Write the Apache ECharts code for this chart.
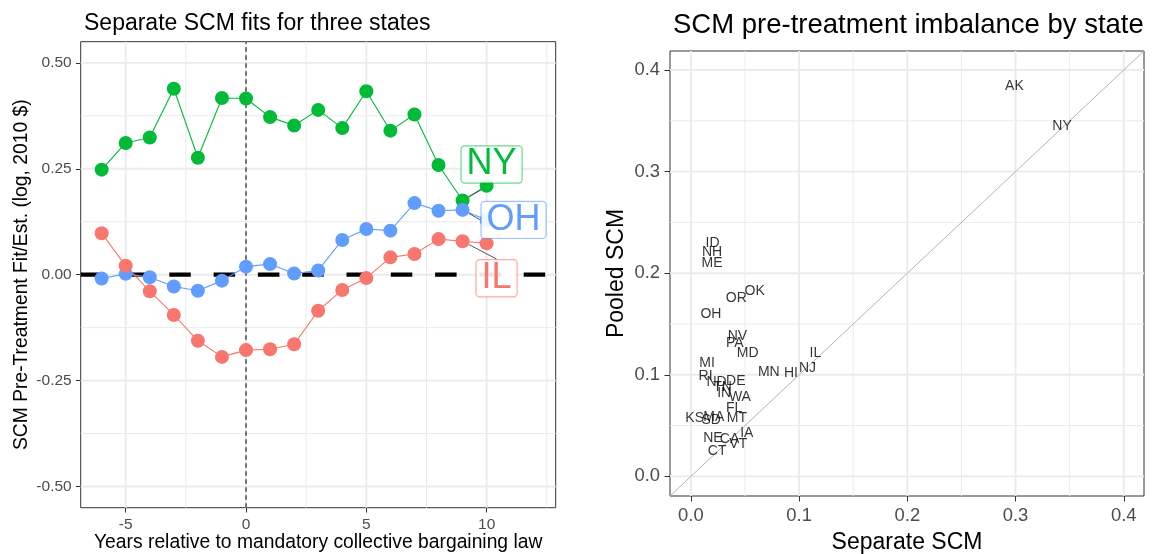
<!DOCTYPE html>
<html>
<head>
<meta charset="utf-8">
<script src="https://cdn.jsdelivr.net/npm/echarts@6/dist/echarts.min.js"></script>
<style>
  html, body { margin: 0; padding: 0; background: #fff; }
  #main { width: 1153px; height: 554px; }
</style>
</head>
<body>
<div id="main"></div>
<script>
var FONT = "Liberation Sans, Arial, Helvetica, sans-serif";

// left panel: separate SCM fits for three states
var years = [-6, -5, -4, -3, -2, -1, 0, 1, 2, 3, 4, 5, 6, 7, 8, 9, 10];
var nyFit = [0.248, 0.311, 0.324, 0.439, 0.276, 0.417, 0.416, 0.372, 0.352, 0.389, 0.346, 0.433, 0.340, 0.378, 0.259, 0.175, 0.210];
var ohFit = [-0.009, 0.002, -0.006, -0.028, -0.038, -0.014, 0.019, 0.025, 0.003, 0.010, 0.082, 0.108, 0.104, 0.169, 0.151, 0.153, 0.129];
var ilFit = [0.098, 0.021, -0.039, -0.095, -0.156, -0.194, -0.178, -0.176, -0.164, -0.085, -0.036, -0.008, 0.041, 0.049, 0.084, 0.079, 0.074];
var fitTicksX = [-5, 0, 5, 10];
var fitMinorX = [-2.5, 2.5, 7.5, 12.5];
var fitTicksY = [-0.5, -0.25, 0, 0.25, 0.5];
var fitMinorY = [-0.375, -0.125, 0.125, 0.375];
var fitRangeX = [-6.87, 12.87];
var fitRangeY = [-0.55, 0.55];
var treatYear = 0;
var zeroLevel = 0;

// right panel: pre-treatment imbalance by state
var states = ["AK", "NY", "ID", "NH", "ME", "OK", "OR", "OH", "NV", "PA", "MD", "IL", "MI", "MN", "HI", "NJ",
  "RI", "ND", "DE", "TN", "IN", "WA", "FL", "KS", "MA", "SD", "MT", "IA", "NE", "CA", "VT", "CT"];
var separateScm = [0.299, 0.343, 0.020, 0.0195, 0.0195, 0.059, 0.042, 0.0185, 0.043, 0.0405, 0.0525, 0.115, 0.015, 0.072, 0.0925, 0.1077,
  0.0136, 0.0237, 0.0415, 0.0292, 0.0308, 0.0453, 0.040, 0.0035, 0.0211, 0.0188, 0.0425, 0.0517, 0.0204, 0.0357, 0.0438, 0.0243];
var pooledScm = [0.3845, 0.3445, 0.2296, 0.2204, 0.2099, 0.1819, 0.1753, 0.1595, 0.1385, 0.1309, 0.1217, 0.1211, 0.1112, 0.103, 0.102, 0.1069,
  0.0987, 0.0931, 0.0941, 0.0875, 0.0816, 0.078, 0.0674, 0.0571, 0.0586, 0.0553, 0.0578, 0.0425, 0.0372, 0.0362, 0.0322, 0.025];
var imbTicks = [0, 0.1, 0.2, 0.3, 0.4];
var imbMinor = [0.05, 0.15, 0.25, 0.35];
var imbRange = [-0.0193, 0.4187];

var stateColors = { NY: "#00BA38", OH: "#619CFF", IL: "#F8766D" };
var stateBorders = { NY: "rgba(0,186,56,0.55)", OH: "rgba(97,156,255,0.6)", IL: "rgba(248,118,109,0.6)" };
// label placement (pixel offsets from the year-9 point), like ggrepel
var labelIdx = 15;
var labelShift = { NY: [29, -36], OH: [51, 10], IL: [34, 37] };

var myChart = echarts.init(document.getElementById("main"));

function segment(gi, data, style, z) {
  return {
    type: "line",
    xAxisIndex: gi,
    yAxisIndex: gi,
    data: data,
    symbol: "none",
    silent: true,
    z: z,
    lineStyle: style,
    emphasis: { disabled: true }
  };
}

// panel grid lines, drawn as plain series so they sit under the data
function gridSeries(gi, rx, ry, xMajor, xMinor, yMajor, yMinor) {
  var minor = { color: "#ebebeb", width: 1 };
  var major = { color: "#ebebeb", width: 1.9 };
  var out = [];
  xMinor.forEach(function (v) { out.push(segment(gi, [[v, ry[0]], [v, ry[1]]], minor, 0)); });
  yMinor.forEach(function (v) { out.push(segment(gi, [[rx[0], v], [rx[1], v]], minor, 0)); });
  xMajor.forEach(function (v) { out.push(segment(gi, [[v, ry[0]], [v, ry[1]]], major, 0)); });
  yMajor.forEach(function (v) { out.push(segment(gi, [[rx[0], v], [rx[1], v]], major, 0)); });
  return out;
}

function fitSeries(name, values) {
  var pts = years.map(function (y, i) {
    var item = { value: [y, values[i]] };
    if (i === labelIdx) {
      item.label = {
        show: true,
        position: "inside",
        formatter: name,
        color: stateColors[name],
        textBorderWidth: 0,
        textBorderColor: "transparent",
        fontFamily: FONT,
        fontSize: 36,
        lineHeight: 30,
        padding: [3, 5, 3, 5],
        backgroundColor: "rgba(255,255,255,0.9)",
        borderColor: stateBorders[name],
        borderWidth: 1.2,
        borderRadius: 3
      };
    }
    return item;
  });
  return {
    name: name,
    type: "line",
    xAxisIndex: 0,
    yAxisIndex: 0,
    data: pts,
    z: 3,
    symbol: "circle",
    symbolSize: 14,
    showAllSymbol: true,
    itemStyle: { color: stateColors[name] },
    lineStyle: { color: stateColors[name], width: 1.1 },
    label: { show: false },
    labelLine: { show: true, lineStyle: { color: "#555", width: 1 } },
    labelLayout: function (p) {
      if (p.dataIndex !== labelIdx) return {};
      return { dx: labelShift[name][0], dy: labelShift[name][1] };
    },
    emphasis: { disabled: true }
  };
}

var tickLabel = function (size) {
  return { color: "#4d4d4d", fontFamily: FONT, fontSize: size };
};

var series = []
  .concat(gridSeries(0, fitRangeX, fitRangeY, fitTicksX, fitMinorX, fitTicksY, fitMinorY))
  .concat(gridSeries(1, imbRange, imbRange, imbTicks, imbMinor, imbTicks, imbMinor))
  .concat([
    // zero line (black dashed) and treatment year (thin vertical dashed)
    segment(0, [[fitRangeX[0], zeroLevel], [fitRangeX[1], zeroLevel]], { color: "#000", width: 4.2, type: [21.5, 22.8] }, 1),
    segment(0, [[treatYear, fitRangeY[0]], [treatYear, fitRangeY[1]]], { color: "#333", width: 1.3, type: [4.5, 3.5] }, 1),
    fitSeries("NY", nyFit),
    fitSeries("OH", ohFit),
    fitSeries("IL", ilFit),
    // 45-degree line
    segment(1, [[imbRange[0], imbRange[0]], [imbRange[1], imbRange[1]]], { color: "#b3b3b3", width: 1 }, 1),
    {
      type: "scatter",
      xAxisIndex: 1,
      yAxisIndex: 1,
      z: 3,
      silent: true,
      symbolSize: 0,
      data: states.map(function (s, i) { return { name: s, value: [separateScm[i], pooledScm[i]] }; }),
      labelLayout: { hideOverlap: false },
      label: {
        show: true,
        position: "inside",
        formatter: "{b}",
        color: "#000",
        textBorderWidth: 0,
        textBorderColor: "transparent",
        fontFamily: FONT,
        fontSize: 14
      },
      emphasis: { disabled: true }
    }
  ]);

var option = {
  animation: false,
  title: [
    {
      text: "Separate SCM fits for three states",
      left: 79,
      top: 7,
      textStyle: { fontFamily: FONT, fontSize: 23, fontWeight: "normal", color: "#000" }
    },
    {
      text: "SCM pre-treatment imbalance by state",
      left: 668,
      top: 6,
      textStyle: { fontFamily: FONT, fontSize: 27.5, fontWeight: "normal", color: "#000" }
    }
  ],
  grid: [
    { left: 80.7, top: 41.7, width: 475, height: 466, outerBoundsMode: "none", containLabel: false,
      show: true, borderColor: "#333", borderWidth: 1, backgroundColor: "#fff" },
    { left: 670, top: 51, width: 474, height: 445, outerBoundsMode: "none", containLabel: false,
      show: true, borderColor: "#333", borderWidth: 1, backgroundColor: "#fff" }
  ],
  xAxis: [
    {
      type: "value",
      gridIndex: 0,
      min: fitRangeX[0],
      max: fitRangeX[1],
      name: "Years relative to mandatory collective bargaining law",
      nameLocation: "middle",
      nameGap: 25,
      nameMoveOverlap: false,
      nameTextStyle: { fontFamily: FONT, fontSize: 19.3, color: "#000" },
      axisLine: { show: false, onZero: false },
      axisTick: { show: true, length: 4.8, customValues: fitTicksX, lineStyle: { color: "#333", width: 1 } },
      axisLabel: Object.assign(tickLabel(15.5), { customValues: fitTicksX, margin: 9, formatter: function (v) { return String(v); } }),
      splitLine: { show: false }
    },
    {
      type: "value",
      gridIndex: 1,
      min: imbRange[0],
      max: imbRange[1],
      name: "Separate SCM",
      nameLocation: "middle",
      nameGap: 35,
      nameMoveOverlap: false,
      nameTextStyle: { fontFamily: FONT, fontSize: 23, color: "#000" },
      axisLine: { show: false, onZero: false },
      axisTick: { show: true, length: 5.5, customValues: imbTicks, lineStyle: { color: "#333", width: 1 } },
      axisLabel: Object.assign(tickLabel(18.4), { customValues: imbTicks, margin: 11, formatter: function (v) { return v.toFixed(1); } }),
      splitLine: { show: false }
    }
  ],
  yAxis: [
    {
      type: "value",
      gridIndex: 0,
      min: fitRangeY[0],
      max: fitRangeY[1],
      name: "SCM Pre-Treatment Fit/Est. (log, 2010 $)",
      nameLocation: "middle",
      nameGap: 50,
      nameMoveOverlap: false,
      nameTextStyle: { fontFamily: FONT, fontSize: 19.3, color: "#000" },
      axisLine: { show: false, onZero: false },
      axisTick: { show: true, length: 4.8, customValues: fitTicksY, lineStyle: { color: "#333", width: 1 } },
      axisLabel: Object.assign(tickLabel(15.5), { customValues: fitTicksY, margin: 9, formatter: function (v) { return v.toFixed(2); } }),
      splitLine: { show: false }
    },
    {
      type: "value",
      gridIndex: 1,
      min: imbRange[0],
      max: imbRange[1],
      name: "Pooled SCM",
      nameLocation: "middle",
      nameGap: 42,
      nameMoveOverlap: false,
      nameTextStyle: { fontFamily: FONT, fontSize: 23, color: "#000" },
      axisLine: { show: false, onZero: false },
      axisTick: { show: true, length: 5.5, customValues: imbTicks, lineStyle: { color: "#333", width: 1 } },
      axisLabel: Object.assign(tickLabel(18.4), { customValues: imbTicks, margin: 10, formatter: function (v) { return v.toFixed(1); } }),
      splitLine: { show: false }
    }
  ],
  series: series
};

myChart.setOption(option);
</script>
</body>
</html>
